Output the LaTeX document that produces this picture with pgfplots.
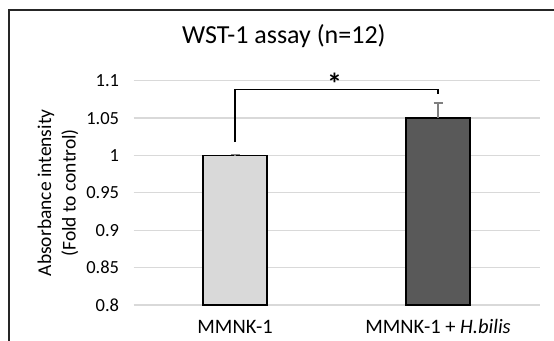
\documentclass[border=0pt]{standalone}
\usepackage{pgfplots}
\pgfplotsset{compat=1.18}
\usepackage{fontspec}
\setmainfont{Carlito}
\definecolor{gridc}{HTML}{D9D9D9}
\definecolor{barlight}{HTML}{D9D9D9}
\definecolor{bardark}{HTML}{595959}
\definecolor{errc}{HTML}{7F7F7F}
\begin{document}
\begin{tikzpicture}
\begin{axis}[
  at={(133.6pt,35pt)}, anchor=south west,
  scale only axis, width=406pt, height=224.3pt,
  xmin=-0.5, xmax=1.5, ymin=0.8, ymax=1.1,
  axis line style={draw=none},
  xtick={0,1}, xticklabels={MMNK-1, MMNK-1 + \textit{H.bilis}},
  ytick={0.8,0.85,0.9,0.95,1,1.05,1.1},
  major tick length=0pt,
  tick style={draw=none},
  ymajorgrids, major grid style={color=gridc, line width=1.2pt},
  /pgf/number format/assume math mode=true,
  yticklabel style={font=\fontsize{18.5}{20}\selectfont, anchor=east, xshift=-11pt},
  xticklabel style={font=\fontsize{20.5}{22}\selectfont, anchor=base, yshift=-28pt},
  ylabel={Absorbance intensity\\(Fold to control)},
  ylabel style={font=\fontsize{19.5}{24.5}\selectfont, align=center, at={(rel axis cs:-0.186,0.5)}, anchor=center, rotate=0},
  title={WST-1 assay (n=12)},
  title style={font=\fontsize{26}{30}\selectfont, at={(rel axis cs:0.370,1.137)}, anchor=base},
  clip=false,
]
\addplot[ybar, bar width=64pt, fill=barlight, draw=black, line width=1.5pt,
  error bars/.cd, y dir=plus, y explicit,
  error bar style={color=errc, line width=1.4pt},
  error mark options={rotate=90, mark size=4.5pt, line width=1.4pt, color=errc}]
  coordinates {(0,1.0) +- (0,0.001)};
\addplot[ybar, bar width=64pt, fill=bardark, draw=black, line width=1.5pt,
  error bars/.cd, y dir=plus, y explicit,
  error bar style={color=errc, line width=1.4pt},
  error mark options={rotate=90, mark size=4.5pt, line width=1.4pt, color=errc}]
  coordinates {(1,1.05) +- (0,0.02)};
\addplot[black, line width=1.5pt, sharp plot, mark=none] coordinates {(0,1.018) (0,1.088) (1,1.088) (1,1.082)};
\node[font=\fontsize{30}{32}\selectfont\bfseries, anchor=base, inner sep=0pt] at (axis cs:0.49,1.081) {*};
\end{axis}
\draw[line width=2.2pt, black!85] (8.8pt,-20pt) -- (8.8pt,330pt) -- (600pt,330pt);
\pgfresetboundingbox
\useasboundingbox (0,0) rectangle (554pt,340pt);
\end{tikzpicture}
\end{document}
